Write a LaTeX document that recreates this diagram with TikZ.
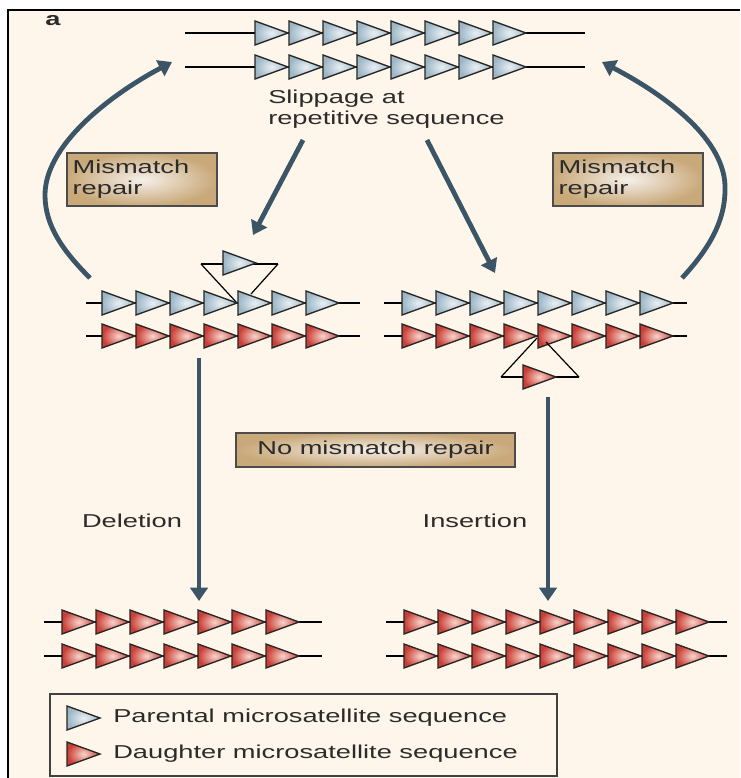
\documentclass[tikz,border=0pt]{standalone}
\usepackage{fontspec}
\setmainfont{Liberation Sans}[FakeStretch=1.46]
\usetikzlibrary{arrows.meta}

\definecolor{paper}{HTML}{FEF6EA}
\definecolor{flowc}{HTML}{3B5567}
\definecolor{inkc}{HTML}{2B2B2B}
\definecolor{tanout}{HTML}{C9A97A}
\definecolor{tanin}{HTML}{F6F0EA}
\definecolor{blueout}{HTML}{9DB6C6}
\definecolor{bluein}{HTML}{E8EFF3}
\definecolor{redout}{HTML}{C93E36}
\definecolor{redin}{HTML}{F8D3CA}

% one repeat unit of a microsatellite: x of the flat side, y of the axis, style
\newcommand\unittri[3]{%
  \shadedraw[#3] (#1,#2-12) -- (#1+33,#2) -- (#1,#2+12) -- cycle;}
% a strand: line from x1 to x2 at y, n units starting at x0
\newcommand\strandrow[6]{%
  \draw[strandline] (#1,#3) -- (#2,#3);
  \foreach \k [evaluate=\k as \ux using {#4+(\k-1)*34}] in {1,...,#5}{\unittri{\ux}{#3}{#6}}}

\tikzset{
  strandline/.style={draw=black, line width=0.9pt},
  parental/.style={draw=black!85, line width=1pt, inner color=bluein, outer color=blueout},
  daughter/.style={draw=black!85, line width=1pt, inner color=redin, outer color=redout},
  loopline/.style={draw=black, line width=0.9pt},
  flow/.style={draw=flowc, line width=3.6pt, -{Triangle[length=10pt,width=13pt]}},
  txt/.style={text=inkc, font=\fontsize{14}{15.5}\selectfont},
  repairbox/.style={txt, draw=black!70, line width=1.2pt, inner color=tanin, outer color=tanout,
    align=left, inner sep=0pt},
  label/.style={txt, inner sep=0pt},
}

\begin{document}
\begin{tikzpicture}[x=0.75pt, y=-0.75pt]
\useasboundingbox (0,0) rectangle (740,778);
\clip (0,0) rectangle (740,778);
\fill[white] (0,0) rectangle (740,778);
\fill[paper] (8,10) rectangle (740,778);
\draw[line width=1.8pt] (8,778) -- (8,10) -- (740,10);

\node[font=\bfseries\fontsize{14}{15}\selectfont, text=inkc, inner sep=0pt] (panel) at (53,21) {a};

% parental duplex
\strandrow{185}{585}{33}{255}{8}{parental}
\strandrow{185}{585}{67}{255}{8}{parental}
\node[label, align=left, anchor=west] (slip) at (268,109) {Slippage at\\repetitive sequence};

% slipped intermediates
\draw[loopline] (201,264) -- (278,264);
\draw[loopline] (201,264) -- (237,303);
\draw[loopline] (278,264) -- (251,294);
\unittri{223}{263}{parental}
\strandrow{86}{360}{303}{102}{7}{parental}
\strandrow{86}{360}{336}{102}{7}{daughter}

\strandrow{384}{687}{303}{402}{8}{parental}
\strandrow{384}{687}{336}{402}{8}{daughter}
\draw[loopline] (501,377) -- (579,377);
\draw[loopline] (501,377) -- (537,338);
\draw[loopline] (579,377) -- (546,342);
\unittri{523}{377}{daughter}

% repair boxes
\node[repairbox, minimum width=112.5pt, minimum height=39.75pt, text width=104pt] (mmL) at (142,179.5) {Mismatch\\repair};
\node[repairbox, minimum width=112.5pt, minimum height=39.75pt, text width=104pt] (mmR) at (628,179.5) {Mismatch\\repair};
\node[repairbox, minimum width=209pt, minimum height=25.5pt, align=center] (nomm) at (375.5,450) {No mismatch repair};

% mutated products
\strandrow{44}{322}{622}{62}{7}{daughter}
\strandrow{44}{322}{656}{62}{7}{daughter}
\strandrow{386}{727}{622}{404}{9}{daughter}
\strandrow{386}{727}{656}{404}{9}{daughter}

\node[label] (del) at (132,521) {Deletion};
\node[label] (ins) at (475,521) {Insertion};

% arrow end points
\coordinate (slipLs) at (303,140);
\coordinate (slipLe) at (253,235);
\coordinate (slipRs) at (427,140);
\coordinate (slipRe) at (495,273);
\coordinate (arcLs) at (90,278);
\coordinate (arcLm) at (45,195);
\coordinate (arcLe) at (172,62);
\coordinate (arcRs) at (682,278);
\coordinate (arcRm) at (725,190);
\coordinate (arcRe) at (602,62);
\coordinate (delS) at (199,358);
\coordinate (delE) at (199,601);
\coordinate (insS) at (548,397);
\coordinate (insE) at (548,601);

\draw[flow] (slipLs) -- (slipLe);
\draw[flow] (slipRs) -- (slipRe);
\draw[flow] (arcLs) .. controls (62,250) and (45,225) .. (arcLm)
  .. controls (45,145) and (110,95) .. (arcLe);
\draw[flow] (arcRs) .. controls (708,250) and (725,222) .. (arcRm)
  .. controls (727,140) and (665,95) .. (arcRe);
\draw[flow] (delS) -- (delE);
\draw[flow] (insS) -- (insE);

% key
\draw[draw=black!75, line width=1.2pt] (50,694) rectangle (557,776);
\unittri{67}{718}{parental}
\unittri{67}{754}{daughter}
\node[label, anchor=west] (keyP) at (113,718) {Parental microsatellite sequence};
\node[label, anchor=west] (keyD) at (113,754) {Daughter microsatellite sequence};
\end{tikzpicture}
\end{document}
